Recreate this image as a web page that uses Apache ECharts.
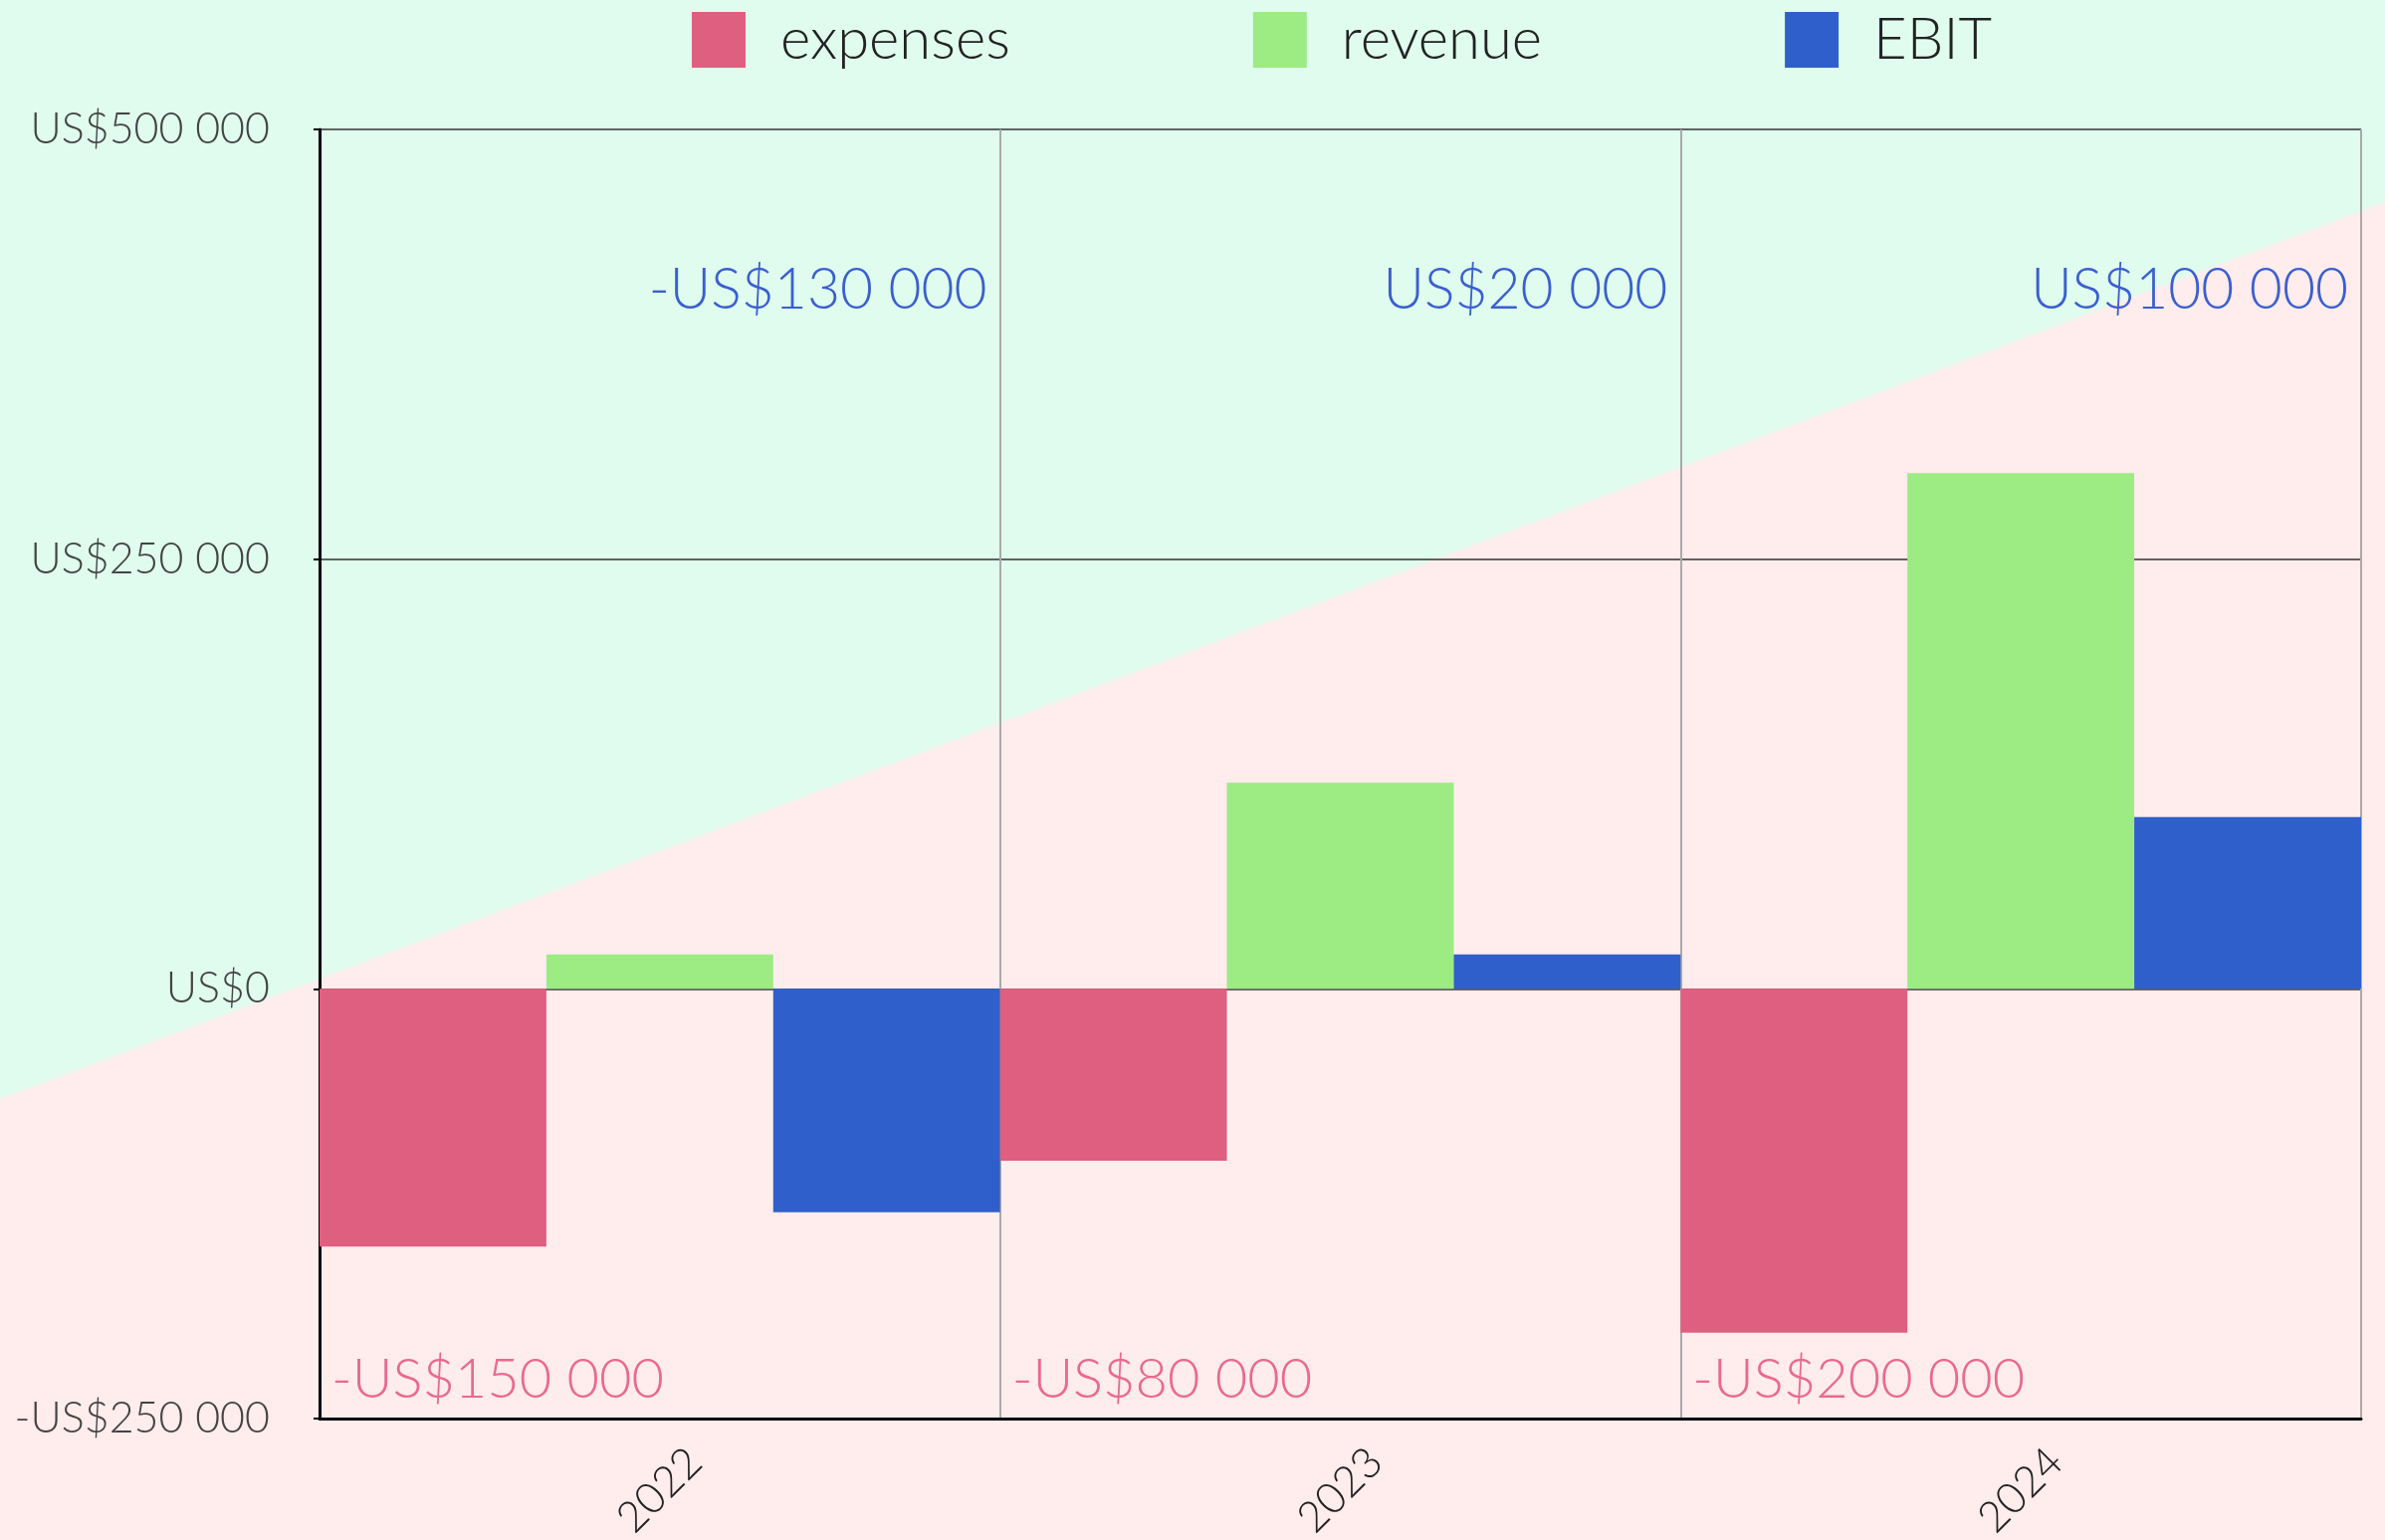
<!DOCTYPE html>
<html>
<head>
<meta charset="utf-8">
<script src="https://cdn.jsdelivr.net/npm/echarts@6/dist/echarts.min.js"></script>
<style>
  html, body { margin: 0; padding: 0; }
  #main { width: 2396px; height: 1547px; }
</style>
</head>
<body>
<div id="main"></div>
<script>
const years = ['2022', '2023', '2024']
const expenses = [-150000, -100000, -200000]
const revenue = [20000, 120000, 300000]
const ebit = [-130000, 20000, 100000]
// annotation texts as printed on the chart
const ebitLabels = ['-US$130 000', 'US$20 000', 'US$100 000']
const expenseLabels = ['-US$150 000', '-US$80 000', '-US$200 000']
const yTicks = [-250000, 0, 250000, 500000]

const FONT = 'Lato, "Open Sans", sans-serif'
const W = 300

function money(v) {
  const s = Math.abs(v).toString().replace(/\B(?=(\d{3})+(?!\d))/g, ' ')
  return (v < 0 ? '-' : '') + 'US$' + s
}

const myChart = echarts.init(document.getElementById('main'))

const option = {
  backgroundColor: {
    type: 'linear',
    x: 0.312, y: -0.352, x2: 0.688, y2: 1.197,
    colorStops: [
      { offset: 0, color: '#dffcef' },
      { offset: 0.499, color: '#dffcef' },
      { offset: 0.501, color: '#ffeced' },
      { offset: 1, color: '#ffeced' }
    ]
  },
  textStyle: { fontFamily: FONT, fontWeight: W },
  legend: {
    data: ['expenses', 'revenue', 'EBIT'],
    left: 690,
    top: 6,
    itemWidth: 54,
    itemHeight: 56,
    itemGap: 244,
    icon: 'rect',
    textStyle: { fontSize: 58, lineHeight: 56, fontWeight: W, color: '#222', fontFamily: FONT, padding: [0, 0, 0, 30] }
  },
  grid: { left: 321, right: 24, top: 130, bottom: 122, outerBoundsMode: 'none', containLabel: false },
  xAxis: {
    type: 'category',
    data: years,
    axisLine: { onZero: false, lineStyle: { color: '#000', width: 3 } },
    axisTick: { show: false },
    splitLine: { show: true, interval: 0, lineStyle: { color: '#aaa', width: 2 } },
    axisLabel: {
      rotate: 45,
      align: 'center',
      verticalAlign: 'middle',
      margin: 72,
      fontSize: 43,
      fontWeight: W,
      color: '#222',
      fontFamily: FONT
    }
  },
  yAxis: {
    type: 'value',
    min: -250000,
    max: 500000,
    interval: 250000,
    axisLine: { show: true, lineStyle: { color: '#000', width: 3 } },
    axisTick: { show: true, length: 6, lineStyle: { color: '#000', width: 2 } },
    splitLine: { show: true, lineStyle: { color: '#333', width: 1.5 } },
    axisLabel: {
      margin: 50,
      fontSize: 43,
      fontWeight: W,
      color: '#444',
      fontFamily: FONT,
      formatter: function (v) { return yTicks.indexOf(v) >= 0 ? money(v) : '' }
    }
  },
  series: [
    {
      name: 'expenses', type: 'bar', data: expenses,
      itemStyle: { color: '#df5f80' },
      barGap: '0%', barCategoryGap: '0%'
    },
    {
      name: 'revenue', type: 'bar', data: revenue,
      itemStyle: { color: '#9deb83' },
      barGap: '0%', barCategoryGap: '0%'
    },
    {
      name: 'EBIT', type: 'bar', data: ebit,
      itemStyle: { color: '#2f5fcb' },
      barGap: '0%', barCategoryGap: '0%'
    },
    {
      // EBIT annotation, top right of each year
      type: 'custom', silent: true, z: 10,
      data: years.map((y, i) => [i, 0]),
      renderItem: function (params, api) {
        const i = api.value(0)
        const c = api.coord([i, 0])
        const w = api.size([1, 0])[0]
        return {
          type: 'text',
          style: {
            x: c[0] + w / 2 - 13,
            y: params.coordSys.y + 162,
            text: ebitLabels[i],
            fill: '#3a5fd0',
            font: W + ' 57px ' + FONT,
            align: 'right',
            verticalAlign: 'middle'
          }
        }
      }
    },
    {
      // expenses annotation, bottom left of each year
      type: 'custom', silent: true, z: 10,
      data: years.map((y, i) => [i, 0]),
      renderItem: function (params, api) {
        const i = api.value(0)
        const c = api.coord([i, 0])
        const w = api.size([1, 0])[0]
        return {
          type: 'text',
          style: {
            x: c[0] - w / 2 + 12,
            y: params.coordSys.y + params.coordSys.height - 39,
            text: expenseLabels[i],
            fill: '#e96a8f',
            font: W + ' 56px ' + FONT,
            align: 'left',
            verticalAlign: 'middle'
          }
        }
      }
    }
  ]
}

myChart.setOption(option)
window.addEventListener('resize', function () {
  myChart.resize()
})
</script>
</body>
</html>
